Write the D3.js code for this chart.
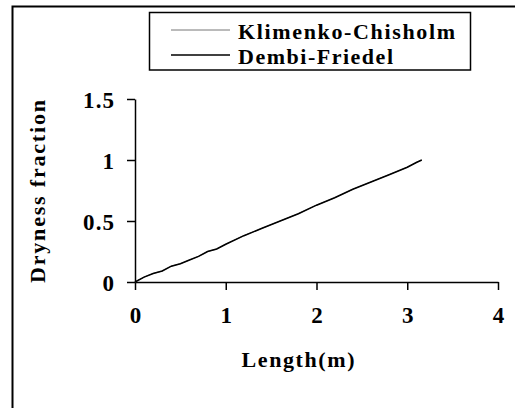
<!DOCTYPE html>
<html>
<head>
<meta charset="utf-8">
<script src="https://cdn.jsdelivr.net/npm/d3@7"></script>
<style>
  html, body { margin: 0; padding: 0; background: #fff; }
  svg { display: block; }
  text { font-family: "Liberation Serif", "Times New Roman", serif; font-weight: bold; fill: #000; }
</style>
</head>
<body>
<svg id="chart" width="515" height="408"></svg>
<script>
// Length along the tube (m) and dryness fraction for each correlation
const lengthM = [0, 0.1, 0.2, 0.3, 0.4, 0.5, 0.6, 0.7, 0.8, 0.9, 1.0, 1.2, 1.4, 1.6, 1.8, 2.0, 2.2, 2.4, 2.6, 2.8, 3.0, 3.1, 3.16];
const klimenkoChisholm = [0, 0.04, 0.07, 0.09, 0.13, 0.15, 0.18, 0.21, 0.25, 0.27, 0.31, 0.38, 0.44, 0.50, 0.56, 0.63, 0.69, 0.76, 0.82, 0.88, 0.94, 0.98, 1.0];
const dembiFriedel     = [0, 0.04, 0.07, 0.09, 0.13, 0.15, 0.18, 0.21, 0.25, 0.27, 0.31, 0.38, 0.44, 0.50, 0.56, 0.63, 0.69, 0.76, 0.82, 0.88, 0.94, 0.98, 1.0];
const seriesNames = ["Klimenko-Chisholm", "Dembi-Friedel"];
const xTicks = [0, 1, 2, 3, 4];
const yTicks = [0, 0.5, 1, 1.5];

const svg = d3.select("#chart");

// outer chart frame (continues past the right and bottom edges)
svg.append("rect")
  .attr("x", 12.5).attr("y", 6.5)
  .attr("width", 560).attr("height", 460)
  .attr("fill", "none").attr("stroke", "#000").attr("stroke-width", 2);

const x = d3.scaleLinear().domain([0, 4]).range([135, 498]);
const y = d3.scaleLinear().domain([0, 1.5]).range([282, 99]);

// axes
const xAxis = d3.axisBottom(x).tickValues(xTicks).tickFormat(d3.format("d")).tickSize(8).tickSizeOuter(0);
const yAxis = d3.axisLeft(y).tickValues(yTicks).tickFormat(d => d).tickSize(8).tickSizeOuter(0);

const gx = svg.append("g").attr("transform", `translate(0,${y(0)})`).call(xAxis);
const gy = svg.append("g").attr("transform", `translate(${x(0)},0)`).call(yAxis);

[gx, gy].forEach(g => {
  g.select(".domain").attr("stroke", "#000").attr("stroke-width", 1.5);
  g.selectAll(".tick line").attr("stroke", "#000").attr("stroke-width", 1.5);
  g.selectAll(".tick text").style("font-family", '"Liberation Serif", serif')
    .style("font-weight", "bold").style("font-size", "23px").attr("fill", "#000");
});
gx.selectAll(".tick text").attr("dy", null).attr("y", 41);
gy.selectAll(".tick text").attr("x", -21).attr("dy", "0.35em")
  .each(function () {
    const t = d3.select(this);
    if (t.text().length > 1) t.attr("textLength", 31).attr("lengthAdjust", "spacing");
  });

// axis titles
svg.append("text")
  .attr("x", 298).attr("y", 367)
  .attr("text-anchor", "middle")
  .attr("textLength", 113).attr("lengthAdjust", "spacing")
  .style("font-size", "22px")
  .text("Length(m)");

svg.append("text")
  .attr("transform", "translate(45,191.5) rotate(-90)")
  .attr("text-anchor", "middle")
  .attr("textLength", 183).attr("lengthAdjust", "spacing")
  .style("font-size", "22px")
  .text("Dryness fraction");

// series lines
const line = d3.line().x((d, i) => x(lengthM[i])).y(d => y(d));

svg.append("path")
  .datum(klimenkoChisholm)
  .attr("d", line)
  .attr("fill", "none").attr("stroke", "#777").attr("stroke-width", 1);

svg.append("path")
  .datum(dembiFriedel)
  .attr("d", line)
  .attr("fill", "none").attr("stroke", "#000").attr("stroke-width", 1.6);

// legend
const legend = svg.append("g");
legend.append("rect")
  .attr("x", 149.5).attr("y", 12.5)
  .attr("width", 321).attr("height", 57.5)
  .attr("fill", "#fff").attr("stroke", "#000").attr("stroke-width", 1.5);

const legendStyles = [
  { stroke: "#777", width: 1, yPos: 30, textWidth: 217 },
  { stroke: "#000", width: 1.6, yPos: 55, textWidth: 155 }
];
seriesNames.forEach((name, i) => {
  const s = legendStyles[i];
  legend.append("line")
    .attr("x1", 171).attr("x2", 230)
    .attr("y1", s.yPos).attr("y2", s.yPos)
    .attr("stroke", s.stroke).attr("stroke-width", s.width);
  legend.append("text")
    .attr("x", 238).attr("y", s.yPos + 9)
    .attr("textLength", s.textWidth).attr("lengthAdjust", "spacing")
    .style("font-size", "22px")
    .text(name);
});
</script>
</body>
</html>
